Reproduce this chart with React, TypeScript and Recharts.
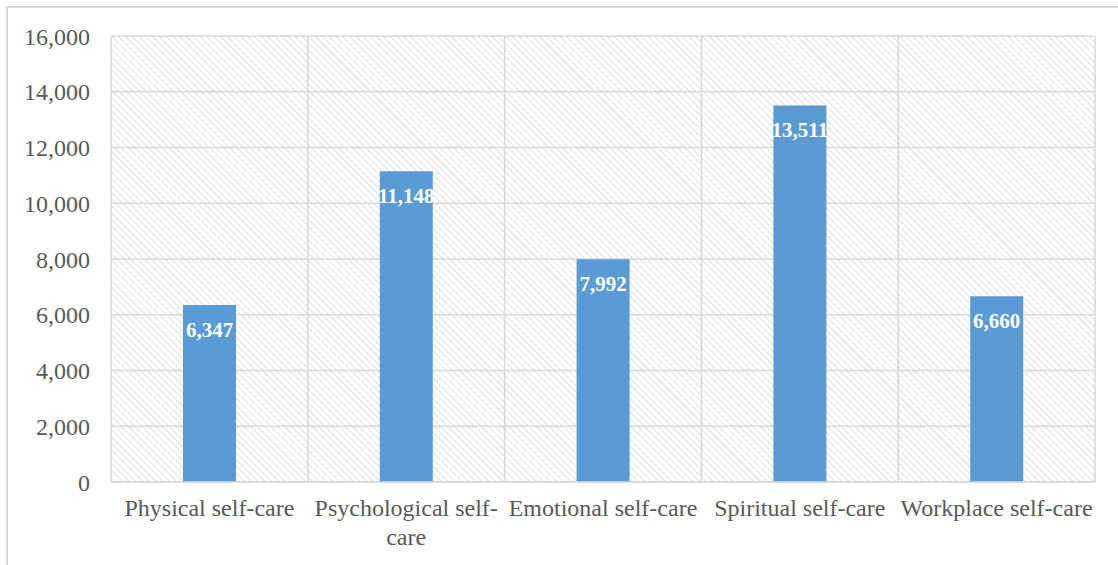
import { BarChart, Bar, XAxis, YAxis, CartesianGrid, LabelList } from 'recharts'

const CATEGORIES = [
  'Physical self-care',
  'Psychological self-care',
  'Emotional self-care',
  'Spiritual self-care',
  'Workplace self-care',
]
const VALUES = [6347, 11148, 7992, 13511, 6660]
const Y_TICKS = [0, 2000, 4000, 6000, 8000, 10000, 12000, 14000, 16000]
const GRID_TICKS = [0, 1, 2, 3, 4, 5]

const FONT = 'Liberation Serif, Times New Roman, serif'
const TEXT_COLOR = '#595959'
const LINE_COLOR = '#d9d9d9'
const BAR_COLOR = '#5b9bd5'

const chartData = CATEGORIES.map((name, i) => ({ name, value: VALUES[i], idx: i + 0.5 }))

const fmt = (v: number) => v.toLocaleString('en-US')

// long labels wrap after the hyphen, the way the original does
function splitLabel(label: string) {
  if (label.length <= 20) return [label]
  const cut = label.lastIndexOf('-') + 1
  return [label.slice(0, cut), label.slice(cut)]
}

function CategoryTick(props: any) {
  const { x, y, payload } = props
  const lines = splitLabel(String(payload.value))
  return (
    <text x={x} y={y} textAnchor="middle" fill={TEXT_COLOR} fontSize={24} fontFamily={FONT}>
      {lines.map((line, i) => (
        <tspan key={i} x={x} dy={i === 0 ? '0.71em' : 29}>
          {line}
        </tspan>
      ))}
    </text>
  )
}

function ValueLabel(props: any) {
  const { x, y, width, value } = props
  return (
    <text
      x={x + width / 2}
      y={y + 32}
      textAnchor="middle"
      fill="#ffffff"
      fontSize={21}
      fontWeight="bold"
      fontFamily={FONT}
    >
      {fmt(value)}
    </text>
  )
}

export default function App() {
  return (
    <div style={{ position: 'absolute', left: 0, top: 0, width: 1118, height: 565, overflow: 'hidden', background: '#fff' }}>
      <div
        style={{
          position: 'absolute',
          left: 6,
          top: 6,
          width: 1200,
          height: 700,
          border: `2px solid ${LINE_COLOR}`,
        }}
      />
      <div style={{ position: 'absolute', left: 0, top: 0 }}>
        <BarChart width={1118} height={565} data={chartData} margin={{ top: 36, right: 23, bottom: 0, left: 0 }}>
          <defs>
            <pattern id="hatch" width="4.8" height="4.8" patternUnits="userSpaceOnUse" patternTransform="rotate(-45)">
              <line x1="0" y1="0" x2="0" y2="4.8" stroke="#dcdcdc" strokeWidth="1.8" />
            </pattern>
          </defs>
          <CartesianGrid
            xAxisId="grid"
            stroke={LINE_COLOR}
            strokeWidth={1.5}
            fill="url(#hatch)"
            fillOpacity={1}
          />
          <XAxis
            xAxisId="grid"
            dataKey="idx"
            type="number"
            domain={[0, 5]}
            ticks={GRID_TICKS}
            hide
          />
          <XAxis
            dataKey="name"
            height={83}
            interval={0}
            tickLine={false}
            tickSize={0}
            tickMargin={17}
            axisLine={{ stroke: LINE_COLOR, strokeWidth: 1.5 }}
            tick={<CategoryTick />}
          />
          <YAxis
            width={111}
            domain={[0, 16000]}
            ticks={Y_TICKS}
            tickFormatter={fmt}
            tickLine={false}
            tickSize={0}
            tickMargin={21}
            axisLine={false}
            tick={{ fill: TEXT_COLOR, fontSize: 24, fontFamily: FONT }}
          />
          <Bar dataKey="value" fill={BAR_COLOR} barSize={53} isAnimationActive={false}>
            <LabelList dataKey="value" content={<ValueLabel />} />
          </Bar>
        </BarChart>
      </div>
    </div>
  )
}
